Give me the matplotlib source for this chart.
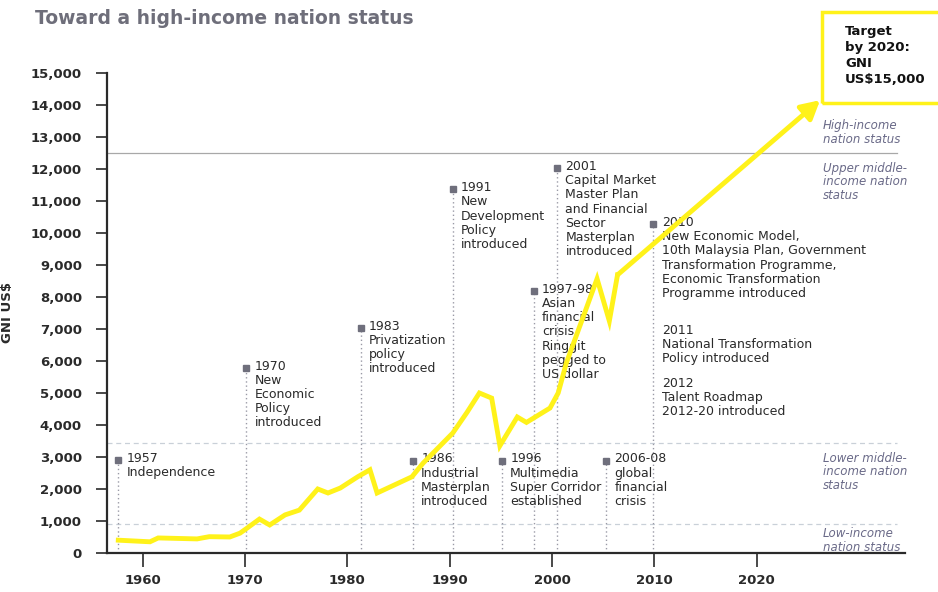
import matplotlib
matplotlib.use('Agg')
import matplotlib.pyplot as plt
from matplotlib.patches import Rectangle

# GNI per capita path (US$)
gni_years = [1957.6, 1960.7, 1961.5, 1965.3, 1966.5, 1968.5, 1969.5, 1970.2, 1971.4,
             1972.4, 1973.9, 1975.3, 1977.1, 1978.1, 1979.3, 1981.0, 1982.2, 1982.9,
             1986.3, 1987.4, 1990.3, 1991.7, 1992.9, 1994.1, 1994.9, 1996.6, 1997.5,
             1999.8, 2000.6, 2001.4, 2003.4, 2004.4, 2005.6, 2006.4]
gni_values = [400, 350, 470, 440, 510, 500, 620, 780, 1060,
              875, 1190, 1340, 2000, 1875, 2030, 2380, 2600, 1875,
              2380, 2810, 3750, 4400, 5000, 4840, 3350, 4250, 4080,
              4530, 5000, 5940, 7690, 8570, 7250, 8690]
target_point = (2026.2, 14150)

# policy milestones
event_x = [1957.6, 1970.1, 1981.3, 1986.4, 1990.3, 1995.1, 1998.2, 2000.5, 2005.3, 2009.9]
event_y = [2900, 5780, 7030, 2880, 11360, 2880, 8180, 12020, 2880, 10270]
event_text = [
    "1957\nIndependence",
    "1970\nNew\nEconomic\nPolicy\nintroduced",
    "1983\nPrivatization\npolicy\nintroduced",
    "1986\nIndustrial\nMasterplan\nintroduced",
    "1991\nNew\nDevelopment\nPolicy\nintroduced",
    "1996\nMultimedia\nSuper Corridor\nestablished",
    "1997-98\nAsian\nfinancial\ncrisis.\nRinggit\npegged to\nUS dollar",
    "2001\nCapital Market\nMaster Plan\nand Financial\nSector\nMasterplan\nintroduced",
    "2006-08\nglobal\nfinancial\ncrisis",
    "2010\nNew Economic Model,\n10th Malaysia Plan, Government\nTransformation Programme,\n"
    "Economic Transformation\nProgramme introduced",
]
extra_y = [7160, 5500]
extra_text = ["2011\nNational Transformation\nPolicy introduced",
              "2012\nTalent Roadmap\n2012-20 introduced"]

# income bands
band_lines = [12500, 3450, 920]
band_y = [13560, 12220, 3160, 810]
band_text = ["High-income\nnation status",
             "Upper middle-\nincome nation\nstatus",
             "Lower middle-\nincome nation\nstatus",
             "Low-income\nnation status"]

x_ticks = [1960, 1970, 1980, 1990, 2000, 2010, 2020]
y_ticks = list(range(0, 15001, 1000))

yellow = '#fff21a'
dark = '#2a2a2a'

fig = plt.figure(figsize=(9.38, 5.92), dpi=100)
ax = fig.add_axes([0.1141, 0.0659, 0.8507, 0.8108])
ax.set_xlim(1956.5, 2034.5)
ax.set_ylim(0, 15000)

# band boundaries
ax.axhline(band_lines[0], color='#a8a8a8', lw=0.9, xmax=0.99, zorder=1)
for v in band_lines[1:]:
    ax.axhline(v, color='#c9d0d8', lw=0.9, ls=(0, (4, 3)), xmax=0.99, zorder=1)
for y, t in zip(band_y, band_text):
    ax.text(2026.5, y, t, fontsize=8.5, style='italic', color='#6a6a88',
            va='top', ha='left', linespacing=1.05)

# milestone markers
for x, y, t in zip(event_x, event_y, event_text):
    ax.plot([x, x], [0, y], color='#9a9aa6', lw=1, ls=(0, (1, 2)), zorder=2)
    ax.plot(x, y, marker='s', ms=4, color='#6f6f7c', zorder=3)
    ax.annotate(t, xy=(x, y), xytext=(6, 6), textcoords='offset points',
                fontsize=9, color=dark, va='top', ha='left', linespacing=1.12)
for y, t in zip(extra_y, extra_text):
    ax.annotate(t, xy=(event_x[-1], y), xytext=(6, 0), textcoords='offset points',
                fontsize=9, color=dark, va='top', ha='left', linespacing=1.12)

# GNI line and arrow to target
ax.plot(gni_years, gni_values, color=yellow, lw=3.5, solid_joinstyle='miter', zorder=4)
ax.annotate('', xy=target_point, xytext=(gni_years[-1], gni_values[-1]),
            arrowprops=dict(arrowstyle='-|>,head_length=1.1,head_width=0.6',
                            color=yellow, lw=3.5, shrinkA=0, shrinkB=0), zorder=4)

for s in ['top', 'right']:
    ax.spines[s].set_visible(False)
for s in ['left', 'bottom']:
    ax.spines[s].set_linewidth(1.6)
    ax.spines[s].set_color(dark)

ax.set_xticks(x_ticks)
ax.set_yticks(y_ticks)
ax.set_yticklabels([f"{v:,}" for v in y_ticks])
ax.tick_params(axis='y', length=8, width=1.2, pad=10, colors=dark, labelsize=9.5)
ax.tick_params(axis='x', length=10, width=1.2, pad=5, colors=dark, labelsize=9.5)
for lbl in ax.get_xticklabels() + ax.get_yticklabels():
    lbl.set_fontweight('bold')
ax.set_ylabel('GNI US$', fontsize=9.5, fontweight='bold', color=dark, labelpad=12)

fig.text(0.037, 0.968, 'Toward a high-income nation status', fontsize=13.5,
         fontweight='bold', color='#6e6e7a', va='center', ha='left')

# target box
box = Rectangle((0.8763, 0.826), 0.2, 0.1537, transform=fig.transFigure,
                fill=False, edgecolor=yellow, lw=2.5, clip_on=False)
fig.patches.append(box)
fig.text(0.901, 0.958, 'Target\nby 2020:\nGNI\nUS$15,000', fontsize=9.5,
         fontweight='bold', color='#111111', va='top', ha='left', linespacing=1.3)

fig.savefig('out.png', dpi=100)
